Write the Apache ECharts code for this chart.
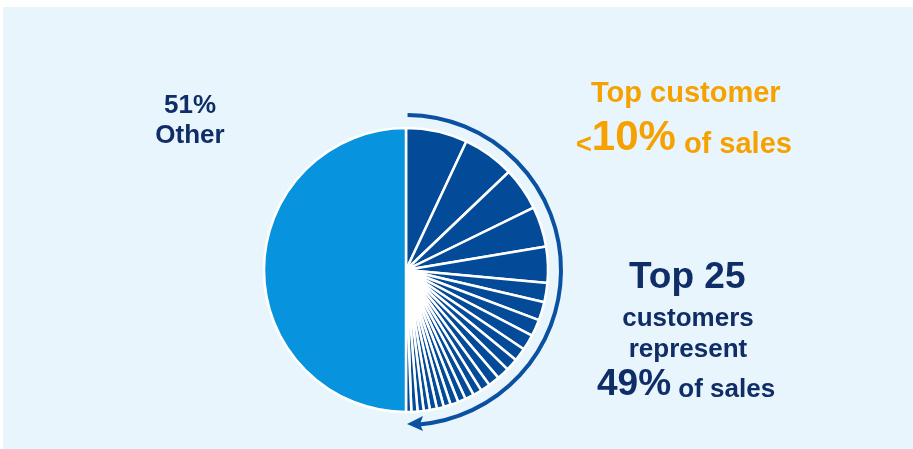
<!DOCTYPE html>
<html>
<head>
<meta charset="utf-8">
<script src="https://cdn.jsdelivr.net/npm/echarts@6/dist/echarts.min.js"></script>
<style>
html,body{margin:0;padding:0;background:#ffffff;}
#chart{width:913px;height:449px;}
</style>
</head>
<body>
<div id="chart"></div>
<script>
// ---- data ----
const customerNames = Array.from({length: 25}, (_, i) => 'Customer ' + (i + 1));
const customerShares = [7.0, 5.9, 4.9, 4.6, 4.1, 2.2, 2.1, 1.9, 1.8, 1.5, 1.4, 1.4, 1.3, 1.1, 1.0, 1.0, 0.9, 0.9, 0.8, 0.8, 0.8, 0.7, 0.7, 0.7, 0.6];
const otherName = 'Other';
const otherShare = 50.1;
const otherLabel = ['51%', 'Other'];
const topCustomerText = ['Top customer', '<', '10%', ' of sales'];
const top25Text = ['Top 25', 'customers', 'represent', '49%', ' of sales'];

// ---- style / layout ----
const DARK = '#034b99';
const LIGHT = '#0893de';
const NAVY = '#0f2d66';
const ORANGE = '#f5a100';
const ARC = '#0b51a2';
const FONT = '"Liberation Sans", Arial, sans-serif';
const CX = 406, CY = 270, R = 142, ARC_R = 155;

const pieData = customerNames.map((n, i) => ({name: n, value: customerShares[i], itemStyle: {color: DARK}}))
  .concat([{name: otherName, value: otherShare, itemStyle: {color: LIGHT}}]);

const chart = echarts.init(document.getElementById('chart'), null, {renderer: 'canvas'});
chart.setOption({
  backgroundColor: '#ffffff',
  animation: false,
  graphic: [
    {type: 'rect', z: -10, shape: {x: 3, y: 7, width: 910, height: 442}, style: {fill: '#e9f5fd'}},
    {type: 'arc', z: 5, shape: {cx: CX, cy: CY, r: ARC_R, startAngle: -Math.PI / 2 + 0.01, endAngle: Math.PI / 2 - 0.085, clockwise: true},
      style: {stroke: ARC, lineWidth: 4, fill: null}},
    {type: 'polygon', z: 5, shape: {points: [[CX + 1, CY + ARC_R - 1], [CX + 17, CY + ARC_R - 9], [CX + 14, CY + ARC_R - 1], [CX + 17, CY + ARC_R + 6]]},
      style: {fill: ARC}},
    {type: 'text', z: 6, left: 190 - 40, top: 91, style: {text: otherLabel.join('\n'), fill: NAVY, font: 'bold 26px ' + FONT, textAlign: 'center', lineHeight: 30, width: 80}},
    {type: 'text', z: 6, left: 591, top: 79, style: {text: topCustomerText[0], fill: ORANGE, font: 'bold 29px ' + FONT}},
    {type: 'text', z: 6, left: 576, top: 117, style: {
      text: '{a|' + topCustomerText[1] + '}{b|' + topCustomerText[2] + '}{c|' + topCustomerText[3] + '}',
      rich: {
        a: {fill: ORANGE, font: 'bold 27px ' + FONT, verticalAlign: 'bottom', lineHeight: 44},
        b: {fill: ORANGE, font: 'bold 42px ' + FONT, verticalAlign: 'bottom', lineHeight: 44},
        c: {fill: ORANGE, font: 'bold 29px ' + FONT, verticalAlign: 'bottom', lineHeight: 44}
      }}},
    {type: 'text', z: 6, left: 629, top: 259, style: {text: top25Text[0], fill: NAVY, font: 'bold 37px ' + FONT}},
    {type: 'text', z: 6, left: 588, top: 303, style: {text: top25Text[1] + '\n' + top25Text[2], fill: NAVY, font: 'bold 26px ' + FONT, textAlign: 'center', lineHeight: 31, width: 200}},
    {type: 'text', z: 6, left: 597, top: 366, style: {
      text: '{b|' + top25Text[3] + '}{c|' + top25Text[4] + '}',
      rich: {
        b: {fill: NAVY, font: 'bold 37px ' + FONT, verticalAlign: 'bottom', lineHeight: 40},
        c: {fill: NAVY, font: 'bold 26px ' + FONT, verticalAlign: 'bottom', lineHeight: 40}
      }}}
  ],
  series: [{
    type: 'pie',
    center: [CX, CY],
    radius: [0, R],
    startAngle: 90,
    clockwise: true,
    avoidLabelOverlap: false,
    label: {show: false},
    labelLine: {show: false},
    emphasis: {disabled: true},
    itemStyle: {borderColor: '#ffffff', borderWidth: 2.5},
    data: pieData
  }]
});
</script>
</body>
</html>
